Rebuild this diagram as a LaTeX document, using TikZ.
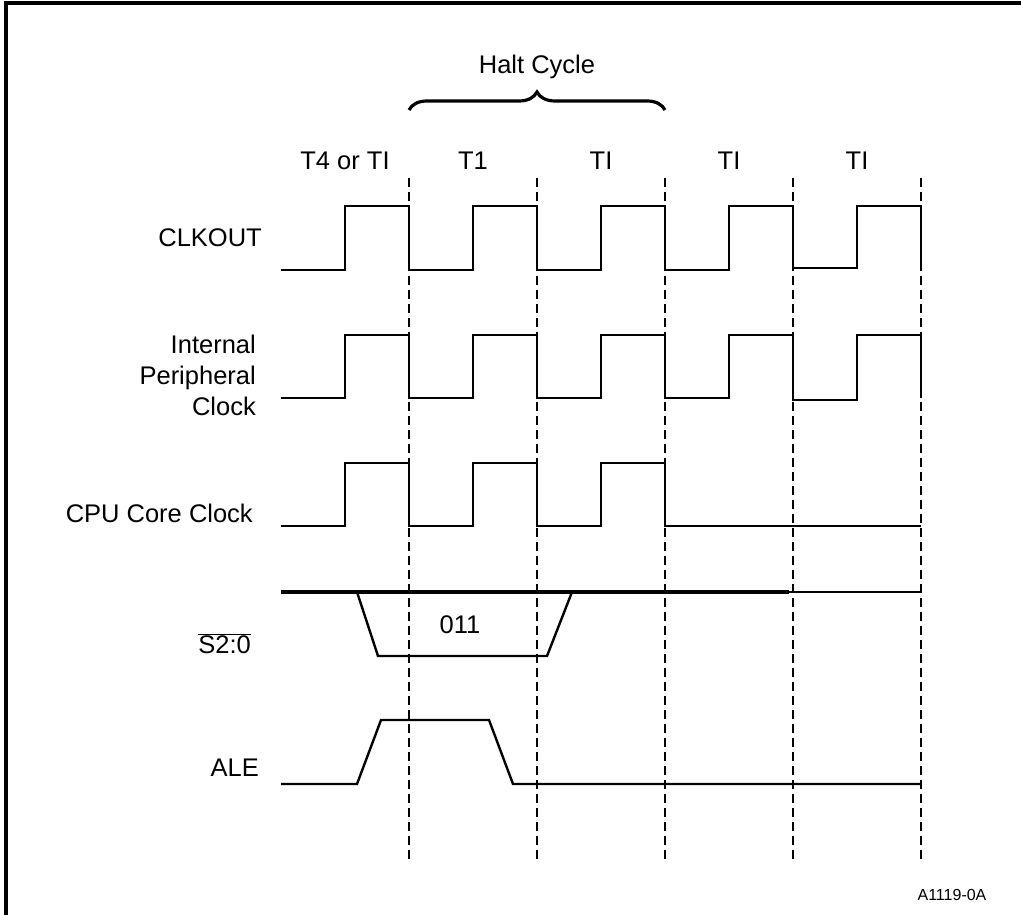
\documentclass[tikz,border=0pt]{standalone}
\usepackage{fontspec}
\setmainfont{Liberation Sans}
\usetikzlibrary{decorations.pathreplacing}
\begin{document}
\begin{tikzpicture}[x=1pt,y=-1pt,
  wave/.style={line width=2.4pt, line join=miter},
  grid/.style={line width=2.4pt, dash pattern=on 9pt off 5pt},
  lbl/.style={font=\fontsize{25.5}{31}\selectfont, inner sep=0pt},
  rlbl/.style={lbl, anchor=east, align=right},
  frame/.style={line width=3.5pt}]
\useasboundingbox (0,0) rectangle (1021,915);
% frame (top and left only)
\draw[frame] (6,915) -- (6,3) -- (1021,3);
% dashed cycle boundaries
\foreach \x/\n in {409/a,537/b,665/c,793/d,921/e}{
  \coordinate (top\n) at (\x,178);
  \coordinate (bot\n) at (\x,859);
  \draw[grid] (top\n) -- (bot\n);
}
% brace and title
\draw[line width=3.2pt, decorate, decoration={brace, amplitude=18pt}] (409,110) -- (665,110);
\node[lbl] (halt) at (537,67) {Halt Cycle};
% column labels
\node[lbl] (c0) at (345,161) {T4 or TI};
\node[lbl] (c1) at (473,161) {T1};
\node[lbl] (c2) at (601,161) {TI};
\node[lbl] (c3) at (729,161) {TI};
\node[lbl] (c4) at (857,161) {TI};
% signal labels
\node[rlbl] (l1) at (262,238) {CLKOUT};
\node[rlbl] (l2) at (256,375) {Internal\\Peripheral\\Clock};
\node[rlbl] (l3) at (253,513) {CPU Core Clock};
\node[rlbl] (l4) at (251,644) {$\overline{\mbox{S2:0}}$};
\node[rlbl] (l5) at (259,768) {ALE};
% CLKOUT
\draw[wave] (281,270) -- (345,270) -- (345,206) -- (409,206) -- (409,270)
  -- (473,270) -- (473,206) -- (537,206) -- (537,270)
  -- (601,270) -- (601,206) -- (665,206) -- (665,270)
  -- (729,270) -- (729,206) -- (793,206) -- (793,268)
  -- (857,268) -- (857,206) -- (921,206) -- (921,270);
% Internal peripheral clock
\draw[wave] (281,398) -- (345,398) -- (345,335) -- (409,335) -- (409,398)
  -- (473,398) -- (473,335) -- (537,335) -- (537,398)
  -- (601,398) -- (601,335) -- (665,335) -- (665,398)
  -- (729,398) -- (729,335) -- (793,335) -- (793,400)
  -- (857,400) -- (857,335) -- (921,335) -- (921,398);
% CPU core clock
\draw[wave] (281,526) -- (345,526) -- (345,463) -- (409,463) -- (409,526)
  -- (473,526) -- (473,463) -- (537,463) -- (537,526)
  -- (601,526) -- (601,463) -- (665,463) -- (665,526) -- (921,526);
% S2:0
\draw[line width=3.8pt] (281,592) -- (789,592);
\draw[wave] (789,592) -- (921,592);
\draw[wave] (357,592) -- (378,656) -- (547,656) -- (572,592);
\node[lbl] (s011) at (460,625) {011};
% ALE
\draw[wave] (281,784) -- (357,784) -- (381,720) -- (489,720) -- (513,784) -- (921,784);
% figure id
\node[lbl, font=\fontsize{16}{18}\selectfont] (fid) at (952,895) {A1119-0A};
\end{tikzpicture}
\end{document}
